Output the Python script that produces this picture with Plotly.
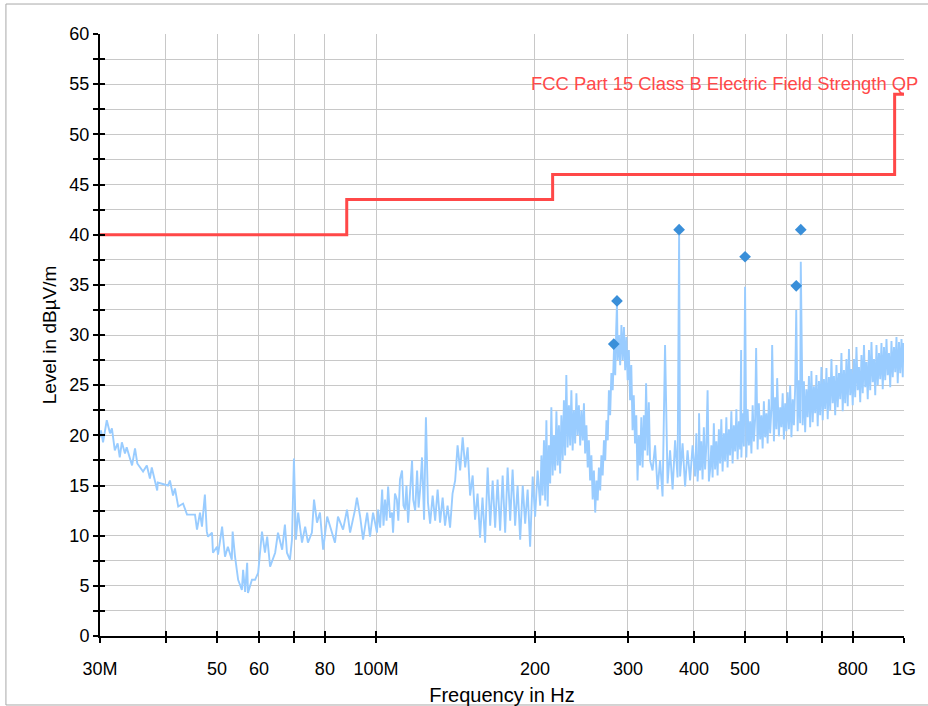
import plotly.graph_objects as go

# Measured spectrum (frequency in MHz, level in dBuV/m)
trace_freq_mhz = [
    30.0, 30.13, 30.4, 30.9, 31.34, 31.6, 32.0, 32.4, 32.7, 33.0, 33.45, 33.7, 34.5, 34.95, 35.3,
    36.2, 36.8, 37.3, 37.6, 38.5, 38.6, 40.35, 40.7, 41.25, 41.6, 42.2, 43.1, 43.85, 45.4, 45.8,
    46.4, 46.8, 47.4, 47.8, 48.05, 48.9, 49.1, 49.97, 50.2, 51.1, 51.75, 52.4, 53.3, 53.5, 54.06,
    54.8, 55.7, 56.0, 56.5, 57.0, 57.2, 58.2, 59.0, 59.8, 60.8, 61.6, 62.2, 63.0, 64.4, 65.2,
    66.4, 67.2, 67.8, 68.7, 69.3, 69.9, 70.5, 71.2, 72.4, 73.4, 74.3, 75.6, 76.3, 77.3, 78.3,
    79.4, 80.8, 81.8, 83.6, 84.7, 86.6, 88.1, 89.3, 91.25, 92.0, 93.3, 94.5, 96.2, 97.4, 98.7,
    100.4, 100.9, 101.8, 102.7, 103.3, 104.0, 104.7, 105.4, 106.3, 107.2, 107.7, 108.6, 109.5, 110.2, 111.0,
    112.0, 112.7, 113.5, 114.2, 115.0, 116.0, 117.0, 117.6, 118.6, 119.6, 120.4, 121.2, 122.2, 123.3, 124.3,
    125.4, 126.6, 128.0, 129.4, 130.8, 132.2, 133.7, 135.1, 136.6, 138.1, 139.6, 141.2, 142.7, 144.3, 145.9,
    147.5, 149.1, 150.7, 152.4, 154.0, 155.7, 157.4, 159.1, 160.9, 162.7, 164.5, 166.3, 168.1, 169.9, 171.8,
    173.7, 175.6, 177.5, 179.5, 181.4, 183.4, 185.4, 187.5, 189.6, 191.6, 193.7, 195.8, 198.0, 200.1, 202.3,
    204.6, 205.7, 206.8, 208.0, 209.1, 210.2, 211.4, 212.5, 213.7, 214.8, 216.0, 217.2, 218.4, 219.6, 220.8,
    222.0, 223.2, 224.4, 225.7, 226.9, 228.1, 229.3, 230.6, 231.9, 233.2, 234.4, 235.7, 237.0, 238.3, 239.6,
    240.9, 242.2, 243.6, 244.9, 246.3, 247.6, 248.9, 250.3, 251.7, 253.0, 254.4, 255.8, 257.2, 258.6, 260.1,
    261.5, 262.9, 264.3, 265.8, 267.2, 268.7, 270.2, 271.7, 273.2, 274.7, 276.1, 277.6, 279.1, 280.7, 282.5,
    283.8, 285.0, 286.0, 286.9, 288.4, 290.0, 291.6, 293.2, 294.8, 296.4, 298.0, 299.6, 301.2, 302.8, 304.4,
    306.1, 307.7, 309.4, 311.1, 312.8, 314.5, 316.3, 318.0, 319.8, 321.5, 323.2, 324.7, 326.8, 328.6, 330.4,
    334.0, 337.7, 341.4, 345.1, 348.9, 352.7, 356.6, 360.5, 364.5, 368.5, 372.5, 375.0, 376.6, 380.7, 384.9,
    389.1, 393.4, 397.7, 402.1, 404.3, 406.5, 408.7, 409.1, 410.9, 413.1, 415.4, 417.7, 420.0, 422.3, 424.6,
    427.0, 429.3, 431.6, 434.0, 436.3, 438.7, 441.1, 443.5, 446.0, 448.4, 450.8, 453.3, 455.8, 458.3, 460.8,
    463.3, 465.8, 468.4, 471.0, 473.5, 476.1, 478.8, 481.4, 484.0, 486.6, 489.3, 491.5, 492.0, 494.7, 497.4,
    500.0, 502.8, 505.6, 508.4, 511.2, 514.0, 516.8, 519.6, 522.4, 524.7, 528.1, 531.0, 534.0, 536.9, 539.8,
    542.7, 545.7, 548.7, 551.7, 554.7, 557.8, 560.8, 562.7, 567.0, 570.1, 573.2, 575.1, 579.5, 582.7, 585.9,
    589.1, 592.3, 595.5, 598.7, 602.0, 605.3, 608.7, 612.0, 615.4, 618.7, 622.1, 625.0, 628.9, 632.3, 635.8,
    637.5, 642.8, 646.3, 649.8, 653.4, 657.0, 660.6, 664.2, 667.8, 671.5, 675.1, 678.8, 682.5, 686.3, 690.0,
    693.8, 697.6, 701.4, 705.2, 709.1, 713.0, 716.9, 720.8, 724.8, 728.7, 732.7, 736.7, 740.8, 744.8, 748.9,
    753.0, 757.1, 761.2, 765.4, 769.6, 773.8, 778.0, 782.3, 786.6, 790.9, 795.2, 799.6, 803.9, 808.3, 812.7,
    817.2, 821.7, 826.2, 830.7, 835.3, 839.8, 844.4, 849.0, 853.7, 858.3, 863.0, 867.7, 872.5, 877.3, 882.1,
    886.9, 891.8, 896.6, 901.5, 906.4, 911.4, 916.4, 921.4, 926.4, 931.5, 936.6, 941.7, 946.8, 952.0, 957.2,
    962.5, 967.7, 973.0, 978.3, 983.7, 989.1, 994.5, 997.2, 1000.0,
]
trace_level = [
    19.8, 20.5, 19.3, 21.5, 20.2, 20.7, 18.5, 19.2, 17.8, 19.3, 18.2, 18.8, 17.0, 18.7, 17.2,
    16.4, 17.0, 15.7, 16.8, 14.5, 15.3, 15.0, 15.5, 14.0, 14.7, 12.9, 13.2, 12.1, 12.1, 10.6,
    12.3, 10.9, 14.1, 10.4, 9.9, 10.3, 8.3, 8.9, 8.1, 10.9, 7.9, 8.9, 7.6, 10.4, 7.9,
    5.6, 4.6, 6.6, 4.4, 7.3, 4.3, 5.6, 5.6, 6.3, 10.4, 8.3, 9.9, 6.9, 8.3, 10.3,
    8.6, 11.1, 8.3, 7.6, 9.6, 17.7, 9.6, 12.3, 9.3, 10.9, 9.3, 10.3, 13.6, 11.3, 12.3,
    8.6, 11.9, 10.9, 9.3, 11.9, 10.6, 12.6, 10.3, 12.6, 13.8, 11.9, 9.6, 12.3, 9.9, 12.3,
    10.3, 12.6, 10.8, 14.6, 11.0, 13.6, 11.5, 14.9, 11.8, 12.3, 10.3, 14.2, 13.6, 11.5, 15.6,
    16.5, 13.0, 12.6, 15.0, 11.3, 14.8, 17.5, 13.6, 12.5, 16.5, 12.8, 14.6, 17.8, 11.6, 21.8,
    13.3, 11.2, 14.0, 11.5, 14.6, 11.3, 13.8, 11.0, 13.0, 10.8, 14.2, 15.5, 19.0, 16.5, 19.8,
    16.8, 18.8, 14.0, 16.0, 11.6, 14.2, 9.8, 13.8, 9.3, 16.8, 11.0, 15.5, 10.8, 15.6, 10.5,
    16.0, 10.3, 16.8, 11.5, 16.6, 11.0, 15.0, 9.6, 15.0, 11.2, 14.6, 8.9, 15.9, 11.9, 16.5,
    13.0, 18.0, 14.0, 19.5, 13.5, 21.5, 12.9, 19.0, 15.2, 22.8, 16.0, 20.0, 16.5, 22.4, 17.0,
    21.0, 16.2, 22.0, 17.5, 23.5, 18.0, 26.0, 18.8, 23.0, 19.0, 24.5, 18.5, 22.5, 19.2, 24.2,
    20.0, 23.0, 19.0, 22.5, 19.5, 23.2, 18.2, 21.0, 16.8, 19.5, 15.5, 18.0, 13.6, 16.5, 12.3,
    15.5, 13.5, 16.8, 14.5, 18.0, 16.0, 19.5, 17.5, 21.5, 19.5, 24.5, 22.0, 26.2, 24.5, 29.2,
    26.0, 30.5, 33.2, 27.5, 30.0, 27.0, 31.0, 27.5, 30.8, 26.5, 29.8, 25.5, 28.5, 23.5, 27.0,
    20.5, 24.0, 19.2, 22.0, 15.5, 20.0, 17.0, 21.8, 16.8, 22.0, 18.5, 25.2, 18.0, 23.3, 17.5,
    16.5, 19.0, 14.6, 17.5, 13.9, 29.0, 15.2, 18.5, 14.6, 19.5, 15.8, 40.0, 15.9, 19.2, 14.9,
    18.5, 15.5, 19.0, 15.9, 20.2, 15.4, 18.0, 22.2, 16.5, 19.4, 15.6, 20.8, 16.6, 19.0, 24.5,
    15.4, 16.6, 19.0, 15.8, 21.2, 16.6, 19.4, 16.0, 20.6, 17.2, 21.6, 16.4, 20.2, 17.4, 21.8,
    16.8, 20.6, 18.0, 22.4, 17.2, 21.0, 18.4, 22.6, 17.6, 21.4, 18.6, 28.5, 17.8, 22.2, 18.9,
    34.8, 17.8, 22.6, 19.0, 21.4, 18.2, 23.0, 19.4, 21.6, 28.7, 18.6, 23.2, 19.6, 22.0, 18.7,
    23.4, 19.8, 22.2, 19.2, 23.6, 20.2, 22.6, 29.0, 19.4, 23.8, 20.6, 25.7, 19.9, 22.8, 20.8,
    24.2, 19.6, 23.2, 20.4, 24.3, 20.6, 25.0, 19.8, 23.6, 21.0, 24.8, 32.5, 20.4, 25.5, 21.2,
    37.3, 21.0, 25.4, 20.3, 24.6, 21.8, 25.9, 20.8, 26.4, 21.3, 24.9, 22.2, 26.0, 20.9, 25.4,
    22.0, 26.8, 21.5, 25.6, 22.6, 26.7, 21.6, 25.8, 22.5, 27.6, 23.2, 25.9, 22.0, 27.0, 22.8,
    26.2, 23.6, 28.2, 22.4, 26.5, 23.2, 27.6, 22.9, 28.6, 24.0, 26.6, 23.0, 27.6, 23.8, 28.8,
    24.5, 26.8, 23.3, 28.0, 24.2, 29.0, 24.8, 27.3, 23.6, 28.5, 24.5, 29.3, 25.3, 27.6, 24.0,
    29.0, 25.0, 28.2, 25.6, 29.2, 24.6, 28.8, 25.5, 29.6, 26.0, 28.2, 24.8, 29.4, 25.8, 28.8,
    26.3, 29.8, 25.2, 29.3, 26.2, 29.6, 25.8, 29.2, 27.8,
]

# Quasi-peak final measurement points
marker_freq_mhz = [282.0, 286.0, 375.0, 500.0, 625.0, 637.5]
marker_level = [29.1, 33.4, 40.5, 37.8, 34.9, 40.5]

# FCC Part 15 Class B limit (3 m), stepped
limit_freq_mhz = [30, 88, 88, 216, 216, 960, 960, 1000]
limit_level = [40, 40, 43.5, 43.5, 46, 46, 54, 54]
limit_name = "FCC Part 15 Class B Electric Field Strength QP"

# Axis ticks
x_tick_mhz = [30, 40, 50, 60, 70, 80, 100, 200, 300, 400, 500, 600, 700, 800, 1000]
x_tick_text = ["30M", "", "50", "60", "", "80", "100M", "200", "300", "400", "500", "", "", "800", "1G"]
y_tick_vals = [v * 2.5 for v in range(25)]
y_tick_text = [str(int(v)) if v % 5 == 0 else "" for v in y_tick_vals]

MHZ = 1e6
FONT = "Liberation Sans, Arial, sans-serif"
x_range = [7.477121, 9.0]

fig = go.Figure()

fig.add_trace(go.Scatter(
    x=[f * MHZ for f in trace_freq_mhz], y=trace_level, mode="lines",
    line=dict(color="#99ccff", width=1.9), showlegend=False, hoverinfo="skip",
))
fig.add_trace(go.Scatter(
    x=[f * MHZ for f in limit_freq_mhz], y=limit_level, mode="lines",
    line=dict(color="#ff4848", width=3), name=limit_name, showlegend=False,
))
fig.add_trace(go.Scatter(
    x=[f * MHZ for f in marker_freq_mhz], y=marker_level, mode="markers",
    marker=dict(symbol="diamond", size=9, color="#3a8fd9"), showlegend=False,
))
# helper trace that carries the secondary (inner tick) axes
fig.add_trace(go.Scatter(
    x=[30 * MHZ], y=[0], xaxis="x2", yaxis="y2", mode="markers",
    marker=dict(opacity=0), showlegend=False, hoverinfo="skip",
))

axis_font = dict(family=FONT, size=18, color="#000000")

fig.update_layout(
    width=928, height=706,
    margin=dict(l=100, r=24, t=34, b=70, autoexpand=False),
    paper_bgcolor="white", plot_bgcolor="white",
    font=dict(family=FONT, color="#000000"),
    xaxis=dict(
        type="log", range=x_range, automargin=False,
        tickvals=[f * MHZ for f in x_tick_mhz], ticktext=x_tick_text,
        ticks="outside", ticklen=5, tickwidth=1.5, tickcolor="#000000",
        showline=True, linecolor="#000000", linewidth=2,
        showgrid=True, gridcolor="#c8c8c8", gridwidth=1.3,
        zeroline=False, tickfont=axis_font, ticklabelstandoff=10,
        title=dict(text="Frequency in Hz", font=dict(family=FONT, size=20), standoff=10),
    ),
    yaxis=dict(
        range=[0, 60], tickvals=y_tick_vals, ticktext=y_tick_text, automargin=False,
        ticks="outside", ticklen=5, tickwidth=1.5, tickcolor="#000000",
        showline=True, linecolor="#000000", linewidth=2,
        showgrid=True, gridcolor="#c8c8c8", gridwidth=1.3,
        zeroline=False, tickfont=axis_font,
        title=dict(text="Level in dBµV/m", font=dict(family=FONT, size=19), standoff=8),
    ),
    xaxis2=dict(
        type="log", range=x_range, overlaying="x", anchor="y", side="bottom",
        tickvals=[f * MHZ for f in x_tick_mhz], ticks="inside", ticklen=5, tickwidth=1.5,
        tickcolor="#000000", showticklabels=False, showgrid=False, showline=False, zeroline=False,
    ),
    yaxis2=dict(
        range=[0, 60], overlaying="y", anchor="x", side="left",
        tickvals=y_tick_vals, ticks="inside", ticklen=5, tickwidth=1.5,
        tickcolor="#000000", showticklabels=False, showgrid=False, showline=False, zeroline=False,
    ),
    shapes=[dict(
        type="rect", xref="paper", yref="paper",
        x0=-0.117, x1=1.06, y0=-0.1146, y1=1.0498,
        line=dict(color="#a8a8a8", width=1), fillcolor="rgba(0,0,0,0)", layer="below",
    )],
    annotations=[dict(
        text=limit_name, xref="paper", yref="y", x=1.0195, y=54,
        xanchor="right", yanchor="bottom", showarrow=False, yshift=-2,
        font=dict(family=FONT, size=18.4, color="#ff4848"),
    )],
)

fig.write_html("out.html")
